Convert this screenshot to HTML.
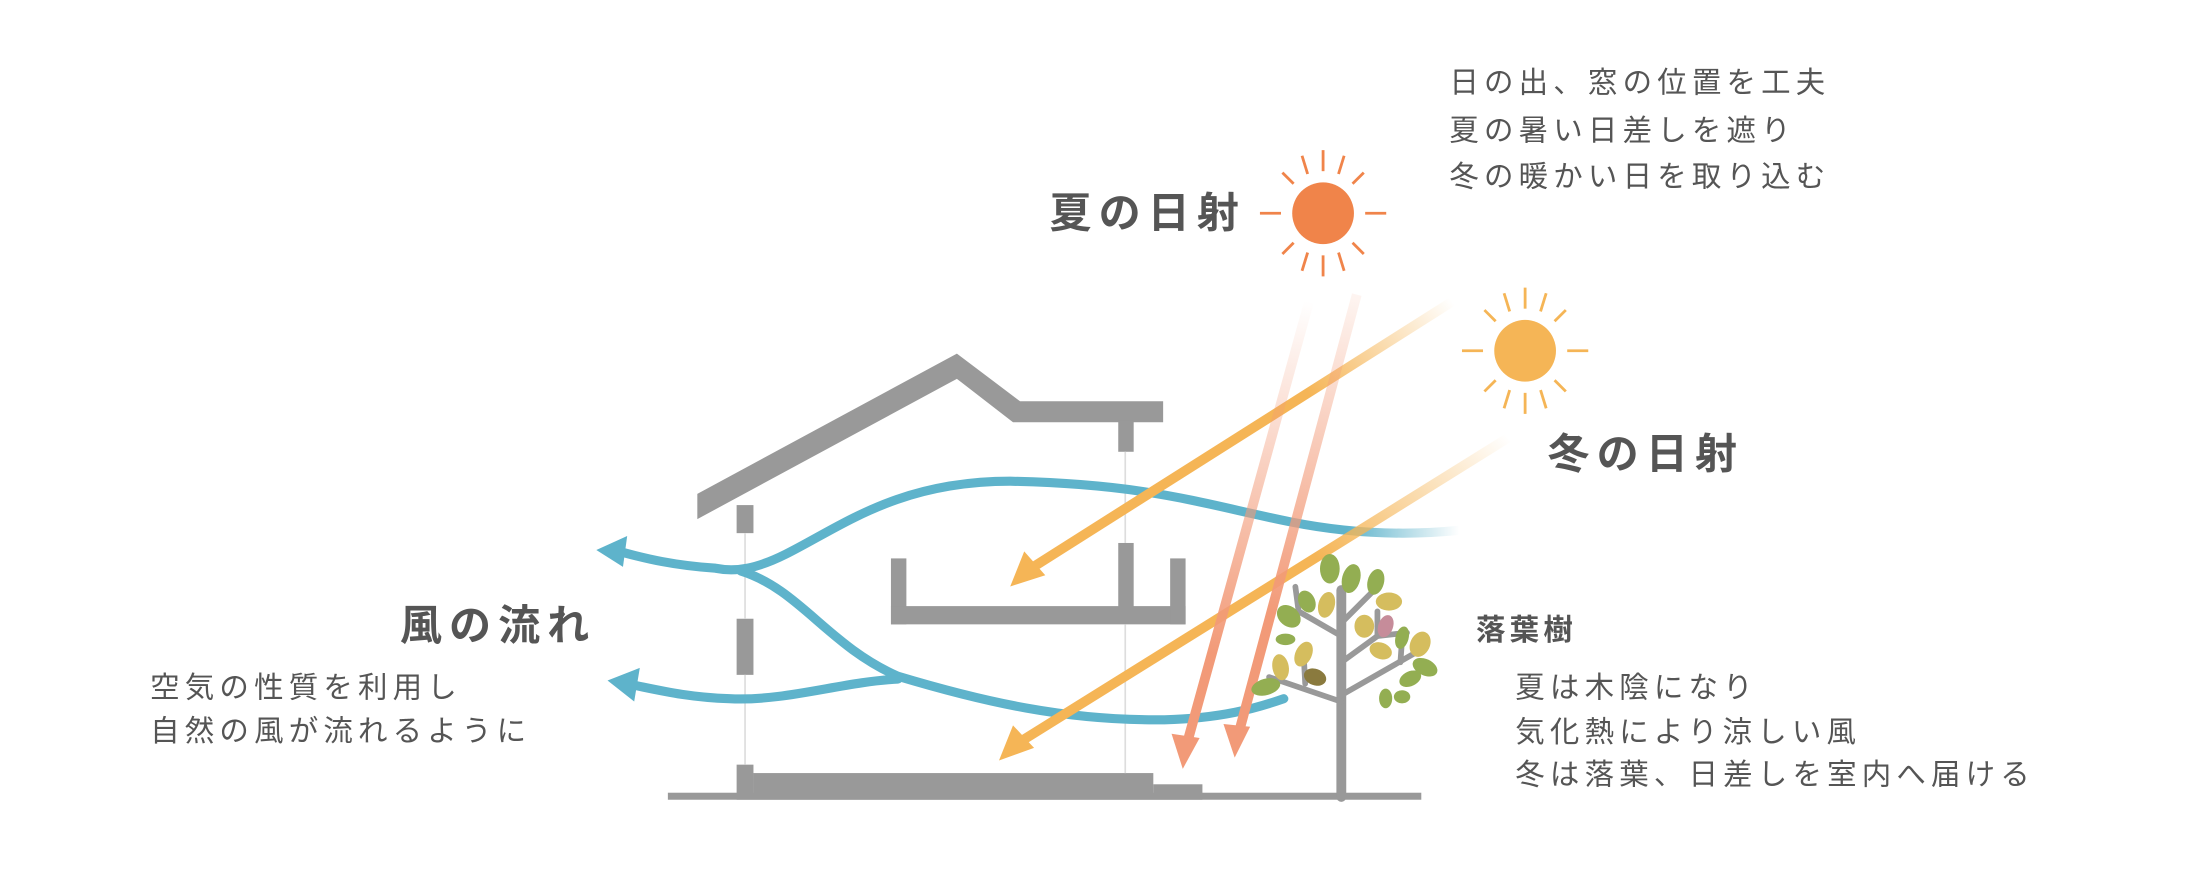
<!DOCTYPE html>
<html><head><meta charset="utf-8"><style>
html,body{margin:0;padding:0;background:#fff;}
svg{display:block;}
text{font-family:"Liberation Sans","Noto Sans CJK JP",sans-serif;fill:#555;}
</style></head><body>
<svg width="2200" height="871" viewBox="0 0 1568 620.8" xmlns="http://www.w3.org/2000/svg">
<defs>
<linearGradient id="w1" gradientUnits="userSpaceOnUse" x1="1040" y1="378" x2="960" y2="378"><stop offset="0" stop-color="#5eb3cb" stop-opacity="0"/><stop offset="1" stop-color="#5eb3cb"/></linearGradient>
<linearGradient id="r1" gradientUnits="userSpaceOnUse" x1="1035" y1="215" x2="940" y2="290"><stop offset="0" stop-color="#f5b556" stop-opacity="0"/><stop offset="1" stop-color="#f5b556"/></linearGradient>
<linearGradient id="r2" gradientUnits="userSpaceOnUse" x1="1075" y1="312" x2="960" y2="420"><stop offset="0" stop-color="#f5b556" stop-opacity="0"/><stop offset="1" stop-color="#f5b556"/></linearGradient>
<linearGradient id="s1" gradientUnits="userSpaceOnUse" x1="933" y1="215" x2="885" y2="470"><stop offset="0" stop-color="#f29a78" stop-opacity="0"/><stop offset="1" stop-color="#f29a78"/></linearGradient>
<linearGradient id="s2" gradientUnits="userSpaceOnUse" x1="967" y1="210" x2="920" y2="440"><stop offset="0" stop-color="#f29a78" stop-opacity="0.1"/><stop offset="1" stop-color="#f29a78"/></linearGradient>
</defs>

<!-- house -->
<g fill="#999">
<polygon points="497,352 682,252 727,286 829,286 829,301 722,301 682,270 497,370"/>
<rect x="525" y="360" width="12" height="20"/>
<rect x="797" y="300" width="11" height="22"/>
<rect x="525" y="441" width="12" height="40"/>
<rect x="525" y="545" width="12" height="25"/>
<rect x="537" y="551" width="285" height="19"/>
<rect x="822" y="559" width="35" height="11"/>
<rect x="476" y="565" width="537" height="5"/>
<rect x="635" y="398" width="11" height="47"/>
<rect x="635" y="432" width="210" height="13"/>
<rect x="834" y="398" width="11" height="47"/>
<rect x="797" y="387" width="11" height="47"/>
</g>
<g stroke="#ddd" stroke-width="1.2">
<line x1="531" y1="380" x2="531" y2="441"/><line x1="531" y1="481" x2="531" y2="545"/>
<line x1="802" y1="322" x2="802" y2="387"/><line x1="802" y1="445" x2="802" y2="551"/>
</g>

<!-- wind -->
<g fill="none" stroke-width="6.5" stroke-linecap="round">
<path d="M1040,378 C1000,382 960,380 920,372 C860,360 820,345 720,343 C640,343 600,375 560,395 C540,405 525,408 510,405 C480,403 460,398 445,394" stroke="url(#w1)"/>
<path d="M528,407 C570,420 590,460 640,482 C700,500 760,514 830,513 C870,512 895,505 915,498" stroke="#5eb3cb"/>
<path d="M640,484 C600,486 560,500 520,498 C490,497 470,492 450,488" stroke="#5eb3cb"/>
</g>
<polygon points="425,392 447,382 444,404" fill="#5eb3cb"/>
<polygon points="433,485 456,476 452,500" fill="#5eb3cb"/>

<!-- rays -->
<g fill="none" stroke-width="7">
<line x1="1035" y1="215" x2="735" y2="405" stroke="url(#r1)"/>
<line x1="1075" y1="312" x2="725" y2="530" stroke="url(#r2)"/>
<line x1="933" y1="215" x2="846" y2="530" stroke="url(#s1)"/>
<line x1="967" y1="210" x2="883" y2="522" stroke="url(#s2)"/>
</g>
<polygon points="720,418 730,393 745,410" fill="#f5b556"/>
<polygon points="712,542 722,517 737,533" fill="#f5b556"/>
<polygon points="843,548 835,523 855,526" fill="#f29a78"/>
<polygon points="880,540 872,516 891,518" fill="#f29a78"/>

<!-- suns -->
<g transform="translate(943,152)">
<circle r="22" fill="#f0844a"/>
<g stroke="#f0844a" stroke-width="2">
<line x1="0" y1="-30" x2="0" y2="-45"/><line x1="0" y1="30" x2="0" y2="45"/>
<line x1="-30" y1="0" x2="-45" y2="0"/><line x1="30" y1="0" x2="45" y2="0"/>
<line x1="-21" y1="-21" x2="-29" y2="-29"/><line x1="21" y1="-21" x2="29" y2="-29"/>
<line x1="-21" y1="21" x2="-29" y2="29"/><line x1="21" y1="21" x2="29" y2="29"/>
<line x1="-11" y1="-28" x2="-15" y2="-41"/><line x1="11" y1="-28" x2="15" y2="-41"/>
<line x1="-11" y1="28" x2="-15" y2="41"/><line x1="11" y1="28" x2="15" y2="41"/>
</g></g>
<g transform="translate(1087,250)">
<circle r="22" fill="#f5b556"/>
<g stroke="#f5b556" stroke-width="2">
<line x1="0" y1="-30" x2="0" y2="-45"/><line x1="0" y1="30" x2="0" y2="45"/>
<line x1="-30" y1="0" x2="-45" y2="0"/><line x1="30" y1="0" x2="45" y2="0"/>
<line x1="-21" y1="-21" x2="-29" y2="-29"/><line x1="21" y1="-21" x2="29" y2="-29"/>
<line x1="-21" y1="21" x2="-29" y2="29"/><line x1="21" y1="21" x2="29" y2="29"/>
<line x1="-11" y1="-28" x2="-15" y2="-41"/><line x1="11" y1="-28" x2="15" y2="-41"/>
<line x1="-11" y1="28" x2="-15" y2="41"/><line x1="11" y1="28" x2="15" y2="41"/>
</g></g>

<!-- tree -->
<g transform="translate(956,568) scale(1.17) translate(-956,-568)">
<g stroke="#999" stroke-linecap="round" fill="none">
<path d="M956,568 L956,442" stroke-width="6"/>
<g stroke-width="3.5">
<path d="M956,510 L912,495"/><path d="M956,506 L1005,478"/>
<path d="M956,470 L930,455 L928,440"/><path d="M956,462 L978,440"/>
<path d="M956,486 L978,470 L996,468"/><path d="M934,499 L933,480"/><path d="M978,470 L978,455"/>
<path d="M992,486 L993,472"/>
</g></g>
<g>
<ellipse cx="949" cy="429" rx="6" ry="9" fill="#93ae52"/>
<ellipse cx="962" cy="435" rx="5.5" ry="9" fill="#93ae52" transform="rotate(15 962 435)"/>
<ellipse cx="977" cy="437" rx="5" ry="8" fill="#93ae52" transform="rotate(15 977 437)"/>
<ellipse cx="985" cy="449" rx="8" ry="5.5" fill="#d5bd5e"/>
<ellipse cx="924" cy="458" rx="8" ry="6" fill="#93ae52" transform="rotate(40 924 458)"/>
<ellipse cx="935" cy="449" rx="5" ry="7" fill="#93ae52" transform="rotate(-25 935 449)"/>
<ellipse cx="947" cy="451" rx="5" ry="8" fill="#d5bd5e" transform="rotate(15 947 451)"/>
<ellipse cx="970" cy="464" rx="6" ry="7" fill="#d5bd5e"/>
<ellipse cx="983" cy="464" rx="4.5" ry="7" fill="#c68c9a" transform="rotate(20 983 464)"/>
<ellipse cx="993" cy="471" rx="4" ry="7" fill="#93ae52" transform="rotate(15 993 471)"/>
<ellipse cx="1004" cy="475" rx="6" ry="8" fill="#d5bd5e" transform="rotate(25 1004 475)"/>
<ellipse cx="1007" cy="489" rx="8" ry="5" fill="#93ae52" transform="rotate(25 1007 489)"/>
<ellipse cx="998" cy="496" rx="7" ry="4.5" fill="#93ae52" transform="rotate(-25 998 496)"/>
<ellipse cx="993" cy="507" rx="5" ry="4" fill="#93ae52"/>
<ellipse cx="983" cy="508" rx="4" ry="6" fill="#93ae52"/>
<ellipse cx="980" cy="479" rx="7" ry="5" fill="#d5bd5e" transform="rotate(20 980 479)"/>
<ellipse cx="922" cy="472" rx="6" ry="3.5" fill="#93ae52"/>
<ellipse cx="933" cy="481" rx="5" ry="8" fill="#d5bd5e" transform="rotate(25 933 481)"/>
<ellipse cx="919" cy="489" rx="5" ry="8" fill="#d5bd5e" transform="rotate(-10 919 489)"/>
<ellipse cx="940" cy="495" rx="7" ry="5" fill="#8a7a3e" transform="rotate(20 940 495)"/>
<ellipse cx="910" cy="501" rx="9" ry="5" fill="#93ae52" transform="rotate(-15 910 501)"/>
</g>
</g>

<!-- text -->
<g font-weight="bold" font-size="30">
<text x="748" y="162" letter-spacing="5">夏の日射</text>
<text x="1103" y="334" letter-spacing="5">冬の日射</text>
<text x="285" y="456" letter-spacing="5">風の流れ</text>
</g>
<text x="1052" y="456" font-size="21" font-weight="bold" letter-spacing="3">落葉樹</text>
<g font-size="21" letter-spacing="3.7">
<text x="1033" y="66">日の出、窓の位置を工夫</text>
<text x="1033" y="100">夏の暑い日差しを遮り</text>
<text x="1033" y="133">冬の暖かい日を取り込む</text>
<text x="1080" y="497">夏は木陰になり</text>
<text x="1080" y="529">気化熱により涼しい風</text>
<text x="1080" y="559">冬は落葉、日差しを室内へ届ける</text>
<text x="107" y="497">空気の性質を利用し</text>
<text x="107" y="528">自然の風が流れるように</text>
</g>
</svg>
</body></html>
